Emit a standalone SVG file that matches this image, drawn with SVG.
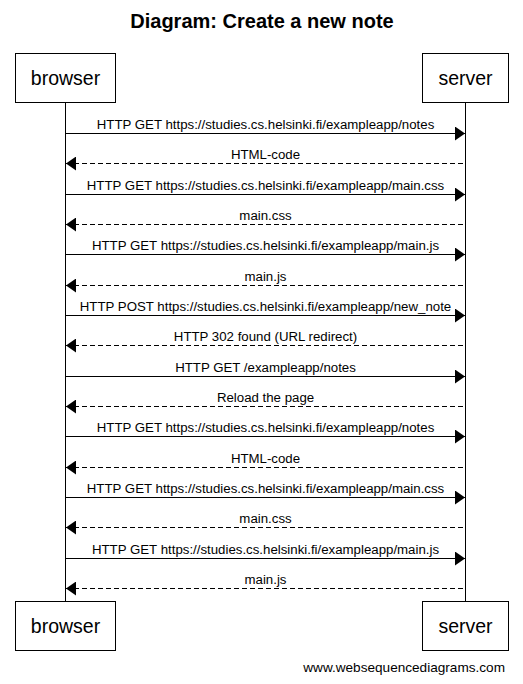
<svg xmlns="http://www.w3.org/2000/svg" width="523" height="684" viewBox="0 0 523 684">
<style>
.box{fill:#fff;stroke:#000;stroke-width:1}
.life{stroke:#000;stroke-width:1}
.msg{stroke:#000;stroke-width:1;fill:none;marker-end:url(#ah)}
.ret{stroke-dasharray:5,3}
.lbl{font-family:"Liberation Sans",Arial,sans-serif;font-size:13.25px;text-anchor:middle;fill:#000}
.actor{font-family:"Liberation Sans",Arial,sans-serif;font-size:19.5px;text-anchor:middle;fill:#000}
.title{font-family:"Liberation Sans",Arial,sans-serif;font-size:20px;font-weight:bold;text-anchor:middle;fill:#000}
.foot{font-family:"Liberation Sans",Arial,sans-serif;font-size:13.6px;text-anchor:end;fill:#000}
</style>
<defs>
<marker id="ah" markerUnits="userSpaceOnUse" markerWidth="10" markerHeight="14" refX="10" refY="7" orient="auto" viewBox="0 0 10 14">
<path d="M0,0 L10,7 L0,14 z" fill="#000"/>
</marker>
</defs>
<rect width="523" height="684" fill="#fff"/>
<text class="title" x="262" y="28">Diagram: Create a new note</text>
<g id="lifelines">
<line class="life" x1="65.5" y1="102.5" x2="65.5" y2="601.5"/>
<line class="life" x1="465.5" y1="102.5" x2="465.5" y2="601.5"/>
</g>
<g id="browser">
<rect class="box" x="15.5" y="53.5" width="100" height="49"/>
<text class="actor" x="65.5" y="85">browser</text>
</g>
<g id="server">
<rect class="box" x="422.5" y="53.5" width="86" height="49"/>
<text class="actor" x="465.5" y="85">server</text>
</g>
<g id="browser-bottom">
<rect class="box" x="15.5" y="601.5" width="100" height="49"/>
<text class="actor" x="65.5" y="633">browser</text>
</g>
<g id="server-bottom">
<rect class="box" x="422.5" y="601.5" width="86" height="49"/>
<text class="actor" x="465.5" y="633">server</text>
</g>
<g id="connectors">
<line class="msg" x1="65.5" y1="133.5" x2="465" y2="133.5"/>
<text class="lbl" x="265.5" y="128.5">HTTP GET https://studies.cs.helsinki.fi/exampleapp/notes</text>
<line class="msg ret" x1="463" y1="163.5" x2="66" y2="163.5"/>
<text class="lbl" x="265.5" y="158.5">HTML-code</text>
<line class="msg" x1="65.5" y1="194.5" x2="465" y2="194.5"/>
<text class="lbl" x="265.5" y="189.5">HTTP GET https://studies.cs.helsinki.fi/exampleapp/main.css</text>
<line class="msg ret" x1="463" y1="224.5" x2="66" y2="224.5"/>
<text class="lbl" x="265.5" y="219.5">main.css</text>
<line class="msg" x1="65.5" y1="254.5" x2="465" y2="254.5"/>
<text class="lbl" x="265.5" y="249.5">HTTP GET https://studies.cs.helsinki.fi/exampleapp/main.js</text>
<line class="msg ret" x1="463" y1="285.5" x2="66" y2="285.5"/>
<text class="lbl" x="265.5" y="280.5">main.js</text>
<line class="msg" x1="65.5" y1="315.5" x2="465" y2="315.5"/>
<text class="lbl" x="265.5" y="310.5">HTTP POST https://studies.cs.helsinki.fi/exampleapp/new_note</text>
<line class="msg ret" x1="463" y1="345.5" x2="66" y2="345.5"/>
<text class="lbl" x="265.5" y="340.5">HTTP 302 found (URL redirect)</text>
<line class="msg" x1="65.5" y1="376.5" x2="465" y2="376.5"/>
<text class="lbl" x="265.5" y="371.5">HTTP GET /exampleapp/notes</text>
<line class="msg ret" x1="463" y1="406.5" x2="66" y2="406.5"/>
<text class="lbl" x="265.5" y="401.5">Reload the page</text>
<line class="msg" x1="65.5" y1="436.5" x2="465" y2="436.5"/>
<text class="lbl" x="265.5" y="431.5">HTTP GET https://studies.cs.helsinki.fi/exampleapp/notes</text>
<line class="msg ret" x1="463" y1="467.5" x2="66" y2="467.5"/>
<text class="lbl" x="265.5" y="462.5">HTML-code</text>
<line class="msg" x1="65.5" y1="497.5" x2="465" y2="497.5"/>
<text class="lbl" x="265.5" y="492.5">HTTP GET https://studies.cs.helsinki.fi/exampleapp/main.css</text>
<line class="msg ret" x1="463" y1="527.5" x2="66" y2="527.5"/>
<text class="lbl" x="265.5" y="522.5">main.css</text>
<line class="msg" x1="65.5" y1="558.5" x2="465" y2="558.5"/>
<text class="lbl" x="265.5" y="553.5">HTTP GET https://studies.cs.helsinki.fi/exampleapp/main.js</text>
<line class="msg ret" x1="463" y1="588.5" x2="66" y2="588.5"/>
<text class="lbl" x="265.5" y="583.5">main.js</text>
</g>
<text class="foot" x="505" y="672">www.websequencediagrams.com</text>
</svg>
